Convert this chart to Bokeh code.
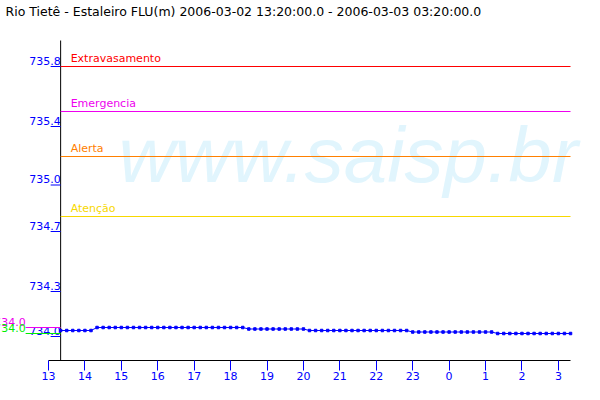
import pandas as pd
from bokeh.plotting import figure
from bokeh.models import FixedTicker, ColumnDataSource, Range1d
from bokeh.core.properties import value
from bokeh.embed import file_html
from bokeh.resources import INLINE

# ---------------- data ----------------
title_text = "Rio Tietê - Estaleiro FLU(m) 2006-03-02 13:20:00.0 - 2006-03-03 03:20:00.0"
watermark = "www.saisp.br"

period_start = "2006-03-02 13:20"
period_end = "2006-03-03 03:20"
axis_start = "2006-03-02 13:00"

# level readings every 10 minutes, 13:20 -> 03:20 (m)
levels = [
    734.04, 734.04, 734.04, 734.04, 734.04, 734.04,                      # 13:20-14:10
    734.06, 734.06, 734.06, 734.06, 734.06, 734.06, 734.06, 734.06,      # 14:20-15:30
    734.06, 734.06, 734.06, 734.06, 734.06, 734.06, 734.06, 734.06,      # 15:40-16:50
    734.06, 734.06, 734.06, 734.06, 734.06, 734.06, 734.06, 734.06,      # 17:00-18:10
    734.06,                                                              # 18:20
    734.05, 734.05, 734.05, 734.05, 734.05, 734.05, 734.05, 734.05,      # 18:30-19:40
    734.05, 734.05,                                                      # 19:50-20:00
    734.04, 734.04, 734.04, 734.04, 734.04, 734.04, 734.04, 734.04,      # 20:10-21:20
    734.04, 734.04, 734.04, 734.04, 734.04, 734.04, 734.04, 734.04,      # 21:30-22:40
    734.04,                                                              # 22:50
    734.03, 734.03, 734.03, 734.03, 734.03, 734.03, 734.03, 734.03,      # 23:00-00:10
    734.03, 734.03, 734.03, 734.03, 734.03, 734.03,                      # 00:20-01:10
    734.02, 734.02, 734.02, 734.02, 734.02, 734.02, 734.02, 734.02,      # 01:20-02:30
    734.02, 734.02, 734.02, 734.02, 734.02,                              # 02:40-03:20
]

threshold_names = ["Extravasamento", "Emergencia", "Alerta", "Atenção"]
threshold_values = [735.80, 735.50, 735.20, 734.80]
threshold_colors = ["#ff0000", "#ee00ee", "#ff8000", "#f8d800"]

y_tick_values = [734.0, 734.3, 734.7, 735.01, 735.4, 735.8]
y_tick_labels = ["734.0", "734.3", "734.7", "735.0", "735.4", "735.8"]

x_tick_labels = ["13", "14", "15", "16", "17", "18", "19", "20", "21", "22",
                 "23", "0", "1", "2", "3"]

max_label = "734.0"
min_label = "734.0"

# ---------------- layout constants ----------------
W, H = 592, 392
PX_PER_HOUR = 36.42          # horizontal scale
PX_PER_M = 150.0             # vertical scale
AXIS_LEFT_PX = 48            # where the 13h tick sits
FRAME_BOTTOM_PX = 360
REF_LEVEL, REF_PX = 735.8, 66
Y_AXIS_TOP = REF_LEVEL + (REF_PX - 40) / PX_PER_M
ASC11 = 10                   # px from text top to baseline, 11px font

# ---------------- derived ----------------
times = pd.date_range(period_start, period_end, freq="10min")
t0 = pd.Timestamp(period_start)
t1 = pd.Timestamp(period_end)
ta = pd.Timestamp(axis_start)
tick_times = pd.date_range(axis_start, periods=len(x_tick_labels), freq="h")
tick_ms = [float(t.value // 10**6) for t in tick_times]

x_lo = ta - pd.Timedelta(hours=AXIS_LEFT_PX / PX_PER_HOUR)
x_hi = ta + pd.Timedelta(hours=(W - AXIS_LEFT_PX) / PX_PER_HOUR)
y_hi = REF_LEVEL + REF_PX / PX_PER_M
y_lo = REF_LEVEL - (FRAME_BOTTOM_PX - REF_PX) / PX_PER_M

FONT = "DejaVu Sans"
BLUE = "#0000ff"

p = figure(width=W, height=H, output_backend="svg", toolbar_location=None,
           x_axis_type="datetime",
           x_range=Range1d(x_lo, x_hi), y_range=Range1d(y_lo, y_hi),
           min_border_left=0, min_border_right=0,
           min_border_top=0, min_border_bottom=H - FRAME_BOTTOM_PX)
p.outline_line_color = None
p.grid.visible = False
p.yaxis.visible = False
p.background_fill_color = "white"
p.border_fill_color = "white"

# watermark (drawn first, behind everything)
p.text(x=[x_lo], y=[y_hi], text=[watermark], x_offset=118, y_offset=110,
       text_font=value("Liberation Sans"), text_font_style="italic",
       text_font_size="78px", text_color="#e1f5fd", text_baseline="top")

# title
p.text(x=[x_lo], y=[y_hi], text=[title_text], x_offset=5, y_offset=3,
       text_font=value(FONT), text_font_size="12.5px", text_color="black",
       text_baseline="top")

# x axis
xa = p.xaxis[0]
xa.ticker = FixedTicker(ticks=tick_ms)
xa.major_label_overrides = {ms: lab for ms, lab in zip(tick_ms, x_tick_labels)}
xa.bounds = (ta, t1)
xa.axis_line_color = "black"
xa.major_tick_line_color = BLUE
xa.major_tick_in = 0
xa.major_tick_out = 10
xa.minor_tick_line_color = None
xa.major_label_text_color = BLUE
xa.major_label_text_font = FONT
xa.major_label_text_font_size = "11px"
xa.major_label_standoff = 1

# y axis drawn at the start of the period
p.segment(x0=[t0], x1=[t0], y0=[y_lo], y1=[Y_AXIS_TOP], line_color="black",
          line_width=1)
ytick_src = ColumnDataSource(dict(x=[t0] * len(y_tick_values), y=y_tick_values,
                                  text=y_tick_labels))
p.ray(x="x", y="y", length=10, length_units="screen", angle=3.14159265,
      line_color=BLUE, line_width=1, source=ytick_src)
p.text(x="x", y="y", text="text", source=ytick_src, text_align="right",
       text_baseline="top", text_color=BLUE, text_font=value(FONT),
       text_font_size="11px", x_offset=0, y_offset=-ASC11)

# thresholds
thr_src = ColumnDataSource(dict(x0=[t0] * 4, x1=[t1] * 4, y=threshold_values,
                                name=threshold_names, color=threshold_colors))
p.segment(x0="x0", y0="y", x1="x1", y1="y", line_color="color", line_width=1,
          source=thr_src)
p.text(x="x0", y="y", text="name", text_color="color", source=thr_src,
       text_font=value(FONT), text_font_size="11px", text_baseline="top",
       x_offset=10, y_offset=-ASC11 - 4.5)

# level series
src = ColumnDataSource(dict(t=times, v=levels))
p.line(x="t", y="v", source=src, line_color=BLUE, line_width=1)
p.scatter(x="t", y="v", source=src, marker="square", size=2.5,
          line_color=BLUE, fill_color=BLUE)

# max / min markers left of the axis
vmax, vmin = max(levels), min(levels)
mm_src = ColumnDataSource(dict(x=[t0, t0], y=[vmax, vmin], text=[max_label, min_label],
                               color=["#ee00ee", "#00ee00"]))
p.ray(x="x", y="y", length=35, length_units="screen", angle=3.14159265,
      line_color="color", line_width=1, source=mm_src)
p.text(x="x", y="y", text="text", source=mm_src, text_align="right",
       text_baseline="top", text_color="color", text_font=value(FONT),
       text_font_size="11px", x_offset=-35, y_offset=-ASC11)

open("out.html", "w").write(file_html(p, INLINE))
